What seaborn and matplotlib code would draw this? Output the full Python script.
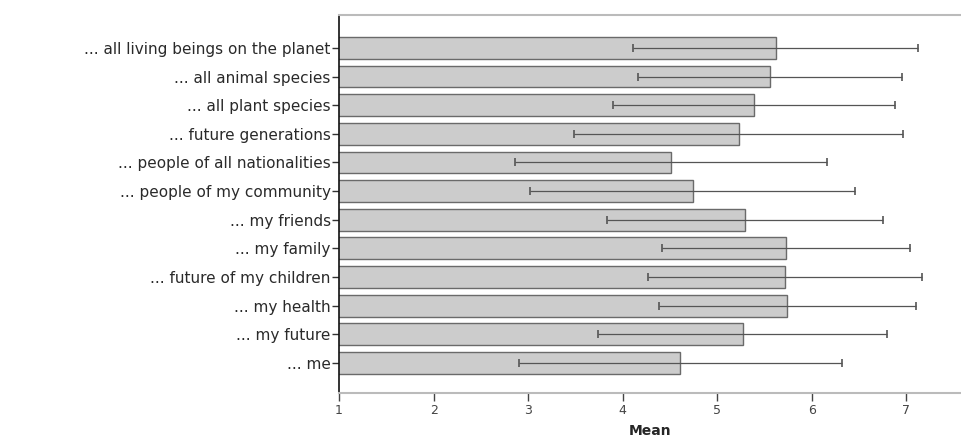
import matplotlib
matplotlib.use("Agg")
import matplotlib.pyplot as plt
import pandas as pd
import seaborn as sns

items = [
    "... all living beings on the planet",
    "... all animal species",
    "... all plant species",
    "... future generations",
    "... people of all nationalities",
    "... people of my community",
    "... my friends",
    "... my family",
    "... future of my children",
    "... my health",
    "... my future",
    "... me",
]
means = [5.62, 5.56, 5.39, 5.23, 4.51, 4.74, 5.30, 5.73, 5.72, 5.74, 5.27, 4.61]
sds = [1.51, 1.40, 1.49, 1.74, 1.65, 1.72, 1.46, 1.31, 1.45, 1.36, 1.53, 1.71]
x_ticks = [1, 2, 3, 4, 5, 6, 7]


def main() -> int:
    df = pd.DataFrame({"item": items, "mean": means, "sd": sds})

    sns.set_theme(style="white")
    plt.rcParams["font.family"] = ["DejaVu Sans"]

    fig = plt.figure(figsize=(9.61, 4.37), dpi=100)
    ax = fig.add_axes([0.3528, 0.1007, 0.6472, 0.865])

    sns.barplot(data=df, x="mean", y="item", orient="h", color="#cccccc",
                saturation=1, width=0.76, edgecolor="#6a6a6a", linewidth=1.0,
                errorbar=None, ax=ax)
    ax.errorbar(df["mean"], range(len(df)), xerr=df["sd"], fmt="none",
                ecolor="#555555", elinewidth=0.9, capsize=2.6, capthick=1.2)

    ax.set_xlim(1, 7.58)
    ax.set_ylim(12.05, -1.15)
    ax.set_xticks(x_ticks)
    ax.set_xticklabels([str(t) for t in x_ticks], fontsize=9, color="#444444")
    ax.tick_params(axis="y", labelsize=11, labelcolor="#2a2a2a", length=5,
                   width=1, color="#333333", direction="out", left=True, pad=1)
    ax.tick_params(axis="x", length=6, width=1, color="#444444",
                   direction="out", bottom=True, pad=2)

    ax.set_xlabel("Mean", fontsize=10, fontweight="bold", labelpad=5)
    ax.set_ylabel("")

    ax.spines["left"].set_color("#111111")
    ax.spines["left"].set_linewidth(1.2)
    ax.spines["top"].set_color("#bbbbbb")
    ax.spines["top"].set_linewidth(1.5)
    ax.spines["bottom"].set_color("#bbbbbb")
    ax.spines["bottom"].set_linewidth(1.5)
    ax.spines["right"].set_visible(False)

    fig.savefig("out.png", dpi=100)
    plt.close(fig)
    return 0


if __name__ == "__main__":
    raise SystemExit(main())
